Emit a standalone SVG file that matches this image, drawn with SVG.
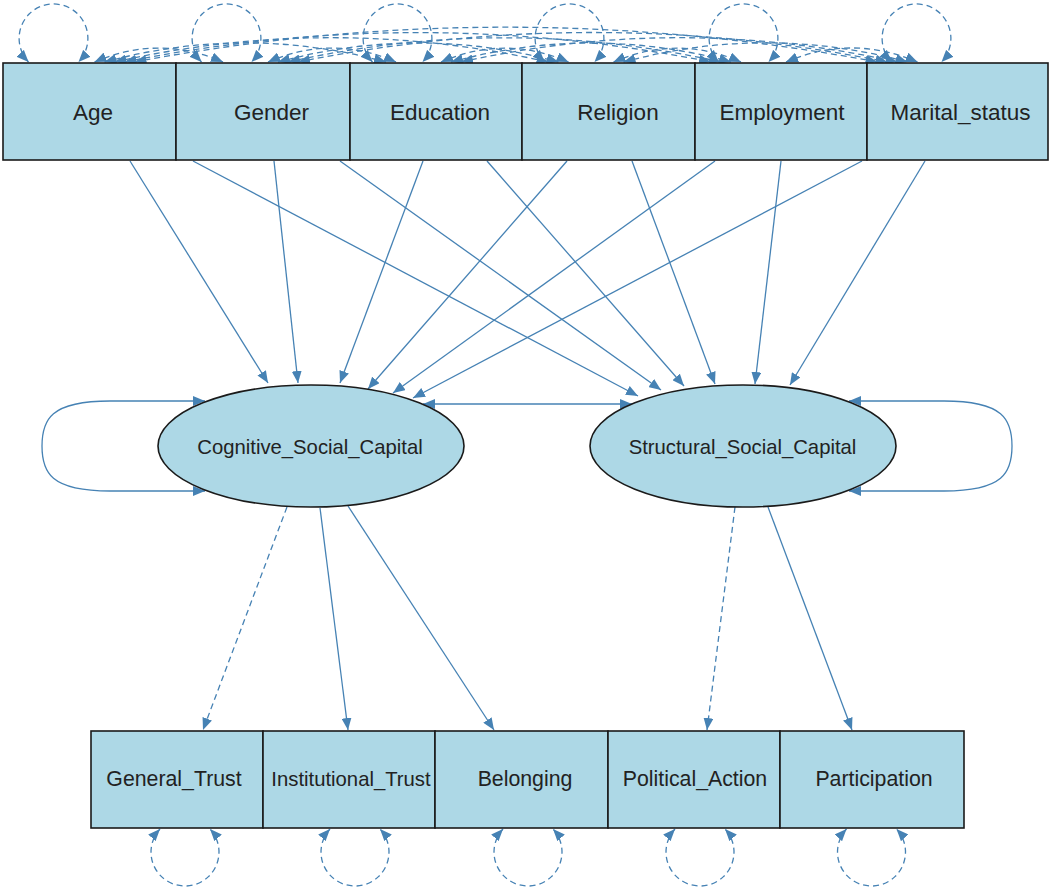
<svg xmlns="http://www.w3.org/2000/svg" width="1050" height="890" viewBox="0 0 1050 890">
<style>
.box{fill:#ADD8E6;stroke:#1a1a1a;stroke-width:1.6}
.lbl{font-family:"Liberation Sans",Arial,sans-serif;fill:#222;text-anchor:middle}
.top{font-size:22.5px}
.bot{font-size:21.3px}
.lat{font-size:20.3px}
.e{fill:none;stroke:#4682B4;stroke-width:1.3}
.d{stroke-dasharray:6 4}
.a{marker-end:url(#ah)}
.b{marker-start:url(#ah);marker-end:url(#ah)}
</style>
<defs>
<marker id="ah" viewBox="0 0 12 10" refX="12" refY="5" markerWidth="12" markerHeight="10" markerUnits="userSpaceOnUse" orient="auto-start-reverse">
<path d="M0,0 L12,5 L0,10 z" fill="#4682B4"/>
</marker>
</defs>
<rect width="1050" height="890" fill="#fff"/>
<g id="connectors">
<!-- exogenous variances -->
<path class="e d b" d="M28.5,62 A34.4 34.4 0 1 1 78.5,62"/>
<path class="e d b" d="M201.5,62 A34.4 34.4 0 1 1 251.5,62"/>
<path class="e d b" d="M372.5,62 A34.4 34.4 0 1 1 422.5,62"/>
<path class="e d b" d="M544.5,62 A34.4 34.4 0 1 1 594.5,62"/>
<path class="e d b" d="M718.5,62 A34.4 34.4 0 1 1 768.5,62"/>
<path class="e d b" d="M891.5,62 A34.4 34.4 0 1 1 941.5,62"/>
<!-- exogenous covariances -->
<path class="e d b" d="M94.5,62 Q158.75,34.2 223,62"/>
<path class="e d b" d="M104.5,62 Q245.25,23.8 386,62"/>
<path class="e d b" d="M114.5,62 Q331.5,13.4 548.5,62"/>
<path class="e d b" d="M124.5,62 Q417.75,3.2 711,62"/>
<path class="e d b" d="M134.5,62 Q506,-7.6 877.5,62"/>
<path class="e d b" d="M268,62 Q332,34.2 396,62"/>
<path class="e d b" d="M278,62 Q418.25,24 558.5,62"/>
<path class="e d b" d="M288,62 Q504.5,13.6 721,62"/>
<path class="e d b" d="M298,62 Q592.75,3 887.5,62"/>
<path class="e d b" d="M441,62 Q504.75,34.4 568.5,62"/>
<path class="e d b" d="M451,62 Q591,24 731,62"/>
<path class="e d b" d="M461,62 Q679.25,13.4 897.5,62"/>
<path class="e d b" d="M613.5,62 Q677.25,34.4 741,62"/>
<path class="e d b" d="M623.5,62 Q765.5,23.6 907.5,62"/>
<path class="e d b" d="M786,62 Q851.75,34 917.5,62"/>
<!-- regressions -->
<path class="e a" d="M130,161 L268,383"/>
<path class="e a" d="M193,161 L638,396"/>
<path class="e a" d="M274,161 L298,383"/>
<path class="e a" d="M340,161 L661,390"/>
<path class="e a" d="M423,161 L340,383"/>
<path class="e a" d="M487,161 L684,386"/>
<path class="e a" d="M567,161 L368,389"/>
<path class="e a" d="M632,161 L715,384"/>
<path class="e a" d="M715,161 L393,393"/>
<path class="e a" d="M781,161 L755,384"/>
<path class="e a" d="M862,161 L413,398"/>
<path class="e a" d="M925,161 L790,385"/>
<!-- latent variances and covariance -->
<path class="e b" d="M205,401 H110 C50,401 42,420 42,446 C42,472 50,491 110,491 H205"/>
<path class="e b" d="M849,401 H944 C1004,401 1012,420 1012,446 C1012,472 1004,491 944,491 H849"/>
<path class="e b" d="M423,404 H632"/>
<!-- loadings -->
<path class="e d a" d="M287,507 L203,730"/>
<path class="e a" d="M320,508 L348,730"/>
<path class="e a" d="M348,506 L494,730"/>
<path class="e d a" d="M735,507 L707,730"/>
<path class="e a" d="M768,507 L852,730"/>
<!-- indicator variances -->
<path class="e d b" d="M160,829 A34 34 0 1 0 210,829"/>
<path class="e d b" d="M330,829 A34 34 0 1 0 380,829"/>
<path class="e d b" d="M503,829 A34 34 0 1 0 553,829"/>
<path class="e d b" d="M675,829 A34 34 0 1 0 725,829"/>
<path class="e d b" d="M846.5,829 A34 34 0 1 0 896.5,829"/>
</g>
<g id="Age"><rect class="box" x="3" y="63" width="173" height="97"/><text class="lbl top" x="93" y="120">Age</text></g>
<g id="Gender"><rect class="box" x="176" y="63" width="174" height="97"/><text class="lbl top" x="271.5" y="120">Gender</text></g>
<g id="Education"><rect class="box" x="350" y="63" width="172" height="97"/><text class="lbl top" x="440" y="120">Education</text></g>
<g id="Religion"><rect class="box" x="522" y="63" width="173" height="97"/><text class="lbl top" x="618" y="120">Religion</text></g>
<g id="Employment"><rect class="box" x="695" y="63" width="172" height="97"/><text class="lbl top" x="782" y="120">Employment</text></g>
<g id="Marital_status"><rect class="box" x="867" y="63" width="181" height="97"/><text class="lbl top" x="960.5" y="120">Marital_status</text></g>
<g id="Cognitive_Social_Capital"><ellipse class="box" cx="311" cy="446" rx="153" ry="61"/><text class="lbl lat" x="310" y="454">Cognitive_Social_Capital</text></g>
<g id="Structural_Social_Capital"><ellipse class="box" cx="743" cy="446" rx="153" ry="61"/><text class="lbl lat" x="742.5" y="454">Structural_Social_Capital</text></g>
<g id="General_Trust"><rect class="box" x="91" y="731" width="172" height="97"/><text class="lbl bot" x="174" y="786">General_Trust</text></g>
<g id="Institutional_Trust"><rect class="box" x="263" y="731" width="172" height="97"/><text class="lbl" style="font-size:20.3px" x="351" y="786">Institutional_Trust</text></g>
<g id="Belonging"><rect class="box" x="435" y="731" width="173" height="97"/><text class="lbl bot" x="525" y="786">Belonging</text></g>
<g id="Political_Action"><rect class="box" x="608" y="731" width="172" height="97"/><text class="lbl bot" x="695" y="786">Political_Action</text></g>
<g id="Participation"><rect class="box" x="780" y="731" width="184" height="97"/><text class="lbl bot" x="874" y="786">Participation</text></g>
</svg>
